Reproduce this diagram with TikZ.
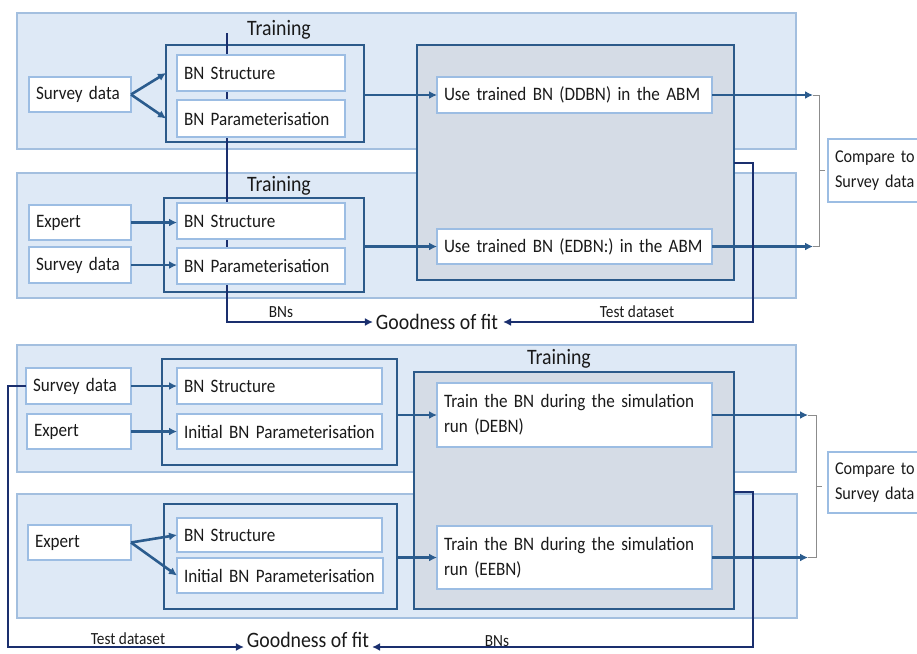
\documentclass[tikz,border=0pt]{standalone}
\usepackage{fontspec}
\setmainfont{Carlito}[FakeStretch=0.9]
\usetikzlibrary{arrows.meta,calc}

\definecolor{bandfill}{HTML}{DEE9F6}
\definecolor{bandline}{HTML}{A3BFDF}
\definecolor{grpline}{HTML}{2C5A8A}
\definecolor{greyfill}{HTML}{D5DCE6}
\definecolor{wline}{HTML}{9CBDE3}
\definecolor{arrc}{HTML}{2B5C8E}
\definecolor{navyc}{HTML}{1A2F6E}
\definecolor{txt}{HTML}{1A1A1A}

% box given by its corners: style, name, x1, y1, x2, y2, text
\newcommand\pbox[7]{%
  \pgfmathsetmacro\pbw{#5-#3}%
  \pgfmathsetmacro\pbh{#6-#4}%
  \pgfmathsetmacro\pbt{#5-#3-14}%
  \node[#1, anchor=north west, minimum width=\pbw pt, minimum height=\pbh pt,
        text width=\pbt pt, align=left] (#2) at (#3,#4) {#7};}

\begin{document}
\begin{tikzpicture}[x=1pt,y=-1pt,
  every node/.style={font=\fontsize{19}{25}\selectfont, text=txt, inner xsep=7pt, inner ysep=2pt, outer sep=0pt},
  band/.style={fill=bandfill, draw=bandline, line width=1.2pt},
  grp/.style={fill=bandfill, draw=grpline, line width=2pt},
  abm/.style={fill=greyfill, draw=grpline, line width=2.5pt},
  wbox/.style={fill=white, draw=wline, line width=1.3pt},
  cbox/.style={wbox, inner xsep=3pt, font=\fontsize{18}{25}\selectfont},
  title/.style={font=\fontsize{22}{26}\selectfont, inner sep=1pt},
  gof/.style={font=\fontsize{22}{26}\selectfont, inner xsep=3pt, inner ysep=1pt},
  small/.style={font=\fontsize{17}{20}\selectfont, inner sep=1pt},
  arr/.style={draw=arrc, line width=2.6pt, -{Latex[length=8pt,width=8pt]}},
  navy/.style={draw=navyc, line width=2.2pt, -{Latex[length=8pt,width=8pt]}},
  brk/.style={draw=black!45, line width=0.8pt}]
\useasboundingbox (0,0) rectangle (917,653);

% background bands
\pbox{band}{b1}{17}{13}{796}{149}{}
\pbox{band}{b2}{17}{173}{796}{298}{}
\pbox{band}{b3}{17}{345}{796}{472}{}
\pbox{band}{b4}{17}{494}{797}{618}{}

% ABM boxes
\pbox{abm}{m1}{417}{45}{734}{280}{}
\pbox{abm}{m2}{414}{372}{734}{609}{}

% training groups
\pbox{grp}{g1}{166}{45}{364}{142}{}
\pbox{grp}{g2}{164}{198}{364}{292}{}
\pbox{grp}{g3}{162}{359}{397}{465}{}
\pbox{grp}{g4}{164}{504}{397}{609}{}

\node[title] (t1) at (279,30) {Training};
\node[title] (t2) at (279,186) {Training};
\node[title] (t3) at (559,359) {Training};

\node[gof] (gf1) at (437,322) {Goodness of fit};
\node[gof, inner ysep=0pt, anchor=base] (gf2) at (308,647) {Goodness of fit};

% trained BNs passed to the goodness of fit (upper half)
\coordinate (bntop) at (227,33);
\draw[navy] (bntop) -- (bntop |- gf1) -- (gf1.west);

% data and BN boxes
\pbox{wbox}{sv1}{29}{77}{131}{112}{Survey data}
\pbox{wbox}{s1}{177}{55}{345}{91}{BN Structure}
\pbox{wbox}{p1}{177}{100}{345}{137}{BN Parameterisation}
\pbox{wbox}{ex2}{29}{205}{131}{240}{Expert}
\pbox{wbox}{sv2}{29}{247}{131}{283}{Survey data}
\pbox{wbox}{s2}{177}{203}{345}{239}{BN Structure}
\pbox{wbox}{p2}{177}{248}{345}{284}{BN Parameterisation}
\pbox{wbox}{u1}{437}{77}{712}{113}{Use trained BN (DDBN) in the ABM}
\pbox{wbox}{u2}{437}{229}{712}{264}{Use trained BN (EDBN:) in the ABM}

\pbox{wbox}{sv3}{26}{368}{131}{404}{Survey data}
\pbox{wbox}{ex3}{27}{414}{131}{449}{Expert}
\pbox{wbox}{s3}{177}{368}{382}{404}{BN Structure}
\pbox{wbox}{p3}{177}{414}{382}{449}{Initial BN Parameterisation}
\pbox{wbox}{ex4}{28}{525}{131}{560}{Expert}
\pbox{wbox}{s4}{177}{518}{382}{552}{BN Structure}
\pbox{wbox}{p4}{177}{558}{383}{593}{Initial BN Parameterisation}
\pbox{wbox}{d1}{437}{383}{712}{447}{Train the BN during the simulation\\run (DEBN)}
\pbox{wbox}{d2}{437}{526}{712}{589}{Train the BN during the simulation\\run (EEBN)}

\pbox{cbox}{c1}{828}{139}{935}{202}{Compare to\\Survey data}
\pbox{cbox}{c2}{828}{452}{935}{513}{Compare to\\Survey data}

% inputs to the training groups
\draw[arr] (sv1.east) -- (g1.west |- s1);
\draw[arr] (sv1.east) -- (g1.west |- p1);
\draw[arr] (ex2.east) -- (ex2.east -| s2.west);
\draw[arr] (sv2.east) -- (sv2.east -| p2.west);
\draw[arr] (sv3.east) -- (sv3.east -| s3.west);
\draw[arr] (ex3.east) -- (ex3.east -| p3.west);
\draw[arr] (ex4.east) -- (s4.west);
\draw[arr] (ex4.east) -- (p4.west);

% groups into the ABM
\draw[arr] (g1.east |- u1) -- (u1.west);
\draw[arr] (g2.east |- u2) -- (u2.west);
\draw[arr] (g3.east |- d1) -- (d1.west);
\draw[arr] (g4.east |- d2) -- (d2.west);

% ABM outputs and comparison brackets
\coordinate (o1) at ([xshift=101pt]u1.east);
\coordinate (o2) at ([xshift=101pt]u2.east);
\coordinate (o3) at ([xshift=96pt]d1.east);
\coordinate (o4) at ([xshift=96pt]d2.east);
\draw[arr] (u1.east) -- (o1);
\draw[arr] (u2.east) -- (o2);
\draw[arr] (d1.east) -- (o3);
\draw[arr] (d2.east) -- (o4);
\draw[brk] (o1) -- ++(6,0) |- (o2);
\draw[brk] ($(o1)!0.5!(o2)+(6,0)$) -- ++(6,0);
\draw[brk] (o3) -- ++(8,0) |- (o4);
\draw[brk] ($(o3)!0.5!(o4)+(8,0)$) -- ++(6,0);

% test data and BNs to the goodness of fit
\coordinate (ts1) at (734,163);
\draw[navy] (ts1) -- ++(19,0) |- ([xshift=2pt]gf1.east);
\coordinate (bn2) at (734,492);
\draw[navy] (bn2) -- ++(19,0) |- (gf2.base east);
\draw[navy] (sv3.west) -- ++(-18,0) |- (gf2.base west);

\node[small] (lb1) at (281,312) {BNs};
\node[small] (lt1) at (637,312) {Test dataset};
\node[small] (lt2) at (128,639) {Test dataset};
\node[small] (lb2) at (497,641) {BNs};
\end{tikzpicture}
\end{document}
